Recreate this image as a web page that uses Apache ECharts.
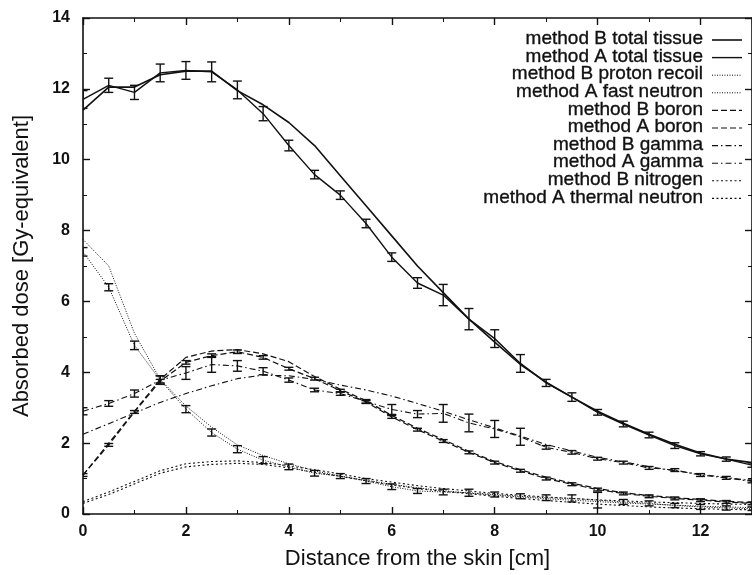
<!DOCTYPE html>
<html>
<head>
<meta charset="utf-8">
<script src="https://cdn.jsdelivr.net/npm/echarts@6/dist/echarts.min.js"></script>
<style>
  html, body { margin: 0; padding: 0; background: #fff; }
  #chart { width: 752px; height: 575px; }
</style>
</head>
<body>
<div id="chart"></div>
<script>
// Depth in phantom [cm]
const depth = [0,0.5,1,1.5,2,2.5,3,3.5,4,4.5,5,5.5,6,6.5,7,7.5,8,8.5,9,9.5,10,10.5,11,11.5,12,12.5,13];

// Dose components [Gy-equivalent]
const totalB   = [11.4,12.05,12.05,12.4,12.5,12.5,11.95,11.55,11.05,10.4,9.55,8.7,7.85,7.0,6.25,5.5,4.85,4.22,3.72,3.3,2.9,2.56,2.25,1.97,1.72,1.55,1.45];
const totalA   = [11.7,12.1,11.9,12.45,12.52,12.48,11.97,11.3,10.4,9.58,9.0,8.2,7.25,6.52,6.18,5.5,4.95,4.25,3.7,3.3,2.87,2.54,2.23,1.93,1.7,1.55,1.38];
const totalAErr= [0.25,0.2,0.2,0.25,0.25,0.28,0.25,0.2,0.15,0.12,0.12,0.12,0.12,0.15,0.3,0.3,0.25,0.25,0.1,0.12,0.08,0.08,0.08,0.08,0.06,0.06,0.06];

const protonB  = [7.75,7.0,5.1,3.8,3.05,2.45,1.95,1.65,1.42,1.22,1.07,0.95,0.84,0.74,0.66,0.59,0.53,0.48,0.43,0.39,0.35,0.31,0.28,0.25,0.22,0.2,0.18];
const fastA    = [7.4,6.4,4.76,3.78,2.96,2.3,1.83,1.52,1.33,1.15,1.07,0.93,0.77,0.65,0.62,0.6,0.55,0.5,0.46,0.44,0.39,0.34,0.3,0.24,0.2,0.17,0.15];
const fastAErr = [0.12,0.1,0.12,0.12,0.1,0.1,0.1,0.1,0.08,0.08,0.07,0.07,0.08,0.07,0.08,0.1,0.07,0.07,0.08,0.1,0.22,0.07,0.07,0.06,0.07,0.06,0.05];

const boronB   = [1.1,2.0,2.9,3.8,4.42,4.6,4.64,4.52,4.3,3.88,3.52,3.2,2.78,2.42,2.1,1.77,1.48,1.25,1.04,0.87,0.72,0.6,0.52,0.46,0.41,0.36,0.32];
const boronA   = [1.1,1.95,2.88,3.75,4.28,4.47,4.58,4.42,4.1,3.82,3.48,3.16,2.74,2.38,2.06,1.74,1.45,1.22,1.0,0.84,0.69,0.58,0.5,0.44,0.39,0.34,0.3];
const boronAErr= [0.04,0.04,0.04,0.05,0.05,0.05,0.05,0.05,0.04,0.04,0.04,0.04,0.04,0.04,0.04,0.04,0.04,0.04,0.04,0.04,0.04,0.04,0.04,0.04,0.04,0.04,0.04];

const gammaB   = [2.25,2.55,2.85,3.15,3.4,3.62,3.82,3.92,3.9,3.8,3.64,3.5,3.33,3.12,2.9,2.66,2.43,2.2,1.96,1.78,1.6,1.47,1.34,1.22,1.12,1.03,0.94];
const gammaA   = [2.9,3.12,3.4,3.78,3.98,4.22,4.18,4.03,3.78,3.5,3.4,3.18,2.95,2.82,2.84,2.57,2.4,2.18,1.88,1.74,1.56,1.45,1.3,1.24,1.1,1.02,0.92];
const gammaAErr= [0.1,0.08,0.1,0.12,0.18,0.22,0.15,0.1,0.06,0.05,0.05,0.05,0.14,0.1,0.25,0.25,0.24,0.24,0.05,0.05,0.04,0.04,0.04,0.04,0.04,0.04,0.04];

const nitrogenB= [0.35,0.62,0.92,1.22,1.42,1.48,1.5,1.45,1.36,1.25,1.13,1.0,0.9,0.8,0.72,0.65,0.58,0.53,0.48,0.44,0.4,0.37,0.34,0.32,0.3,0.28,0.27];
const thermalA = [0.3,0.55,0.85,1.15,1.33,1.4,1.43,1.4,1.3,1.18,1.06,0.94,0.82,0.72,0.64,0.57,0.5,0.44,0.38,0.33,0.28,0.24,0.2,0.17,0.15,0.13,0.12];

const xTicks = [0,2,4,6,8,10,12];
const yTicks = [0,2,4,6,8,10,12,14];

const INK = '#111';
const FONT = '"Liberation Sans", Arial, Helvetica, sans-serif';

// line dash patterns
const SOLID = 'solid';
const FINE_DOT = [1, 1.5];
const DASH = [6, 3];
const DASH_DOT = [6, 3, 1.5, 3];
const DOT = [2, 2.5];

const seriesDefs = [
  { name: 'method B total tissue',    y: totalB,    dash: SOLID,    w: 1.6 },
  { name: 'method A total tissue',    y: totalA,    dash: SOLID,    w: 1.4, err: totalAErr },
  { name: 'method B proton recoil',   y: protonB,   dash: FINE_DOT, w: 1.0 },
  { name: 'method A fast neutron',    y: fastA,     dash: FINE_DOT, w: 1.0, err: fastAErr },
  { name: 'method B boron',           y: boronB,    dash: DASH,     w: 1.2 },
  { name: 'method A boron',           y: boronA,    dash: DASH,     w: 1.2, err: boronAErr },
  { name: 'method B gamma',           y: gammaB,    dash: DASH_DOT, w: 1.1 },
  { name: 'method A gamma',           y: gammaA,    dash: DASH_DOT, w: 1.1, err: gammaAErr },
  { name: 'method B nitrogen',        y: nitrogenB, dash: DOT,      w: 1.1 },
  { name: 'method A thermal neutron', y: thermalA,  dash: DOT,      w: 1.1 }
];

function pairs(ys) { return depth.map((x, i) => [x, ys[i]]); }

function errorBarSeries(ys, errs) {
  return {
    type: 'custom',
    xAxisIndex: 0, yAxisIndex: 0,
    clip: true,
    silent: true,
    z: 5,
    data: depth.map((x, i) => [x, ys[i] - errs[i], ys[i] + errs[i]]),
    renderItem: function (params, api) {
      const lo = api.coord([api.value(0), api.value(1)]);
      const hi = api.coord([api.value(0), api.value(2)]);
      const cap = 4.5;
      const st = { stroke: INK, lineWidth: 1.4 };
      return {
        type: 'group',
        children: [
          { type: 'line', shape: { x1: lo[0], y1: lo[1], x2: hi[0], y2: hi[1] }, style: st },
          { type: 'line', shape: { x1: lo[0] - cap, y1: lo[1], x2: lo[0] + cap, y2: lo[1] }, style: st },
          { type: 'line', shape: { x1: hi[0] - cap, y1: hi[1], x2: hi[0] + cap, y2: hi[1] }, style: st }
        ]
      };
    }
  };
}

const series = [];
seriesDefs.forEach(d => {
  series.push({
    name: d.name,
    type: 'line',
    data: pairs(d.y),
    showSymbol: false,
    symbol: 'none',
    smooth: false,
    clip: true,
    lineStyle: { color: INK, width: d.w, type: d.dash },
    z: 3
  });
  if (d.err) series.push(errorBarSeries(d.y, d.err));
});

// legend block: right-aligned labels with line samples to their right
const legendGraphics = [];
const legTextRight = 703, legTop = 39, legStep = 17.6, legX1 = 712, legX2 = 742;
seriesDefs.forEach((d, i) => {
  const yy = legTop + i * legStep;
  legendGraphics.push({
    type: 'text', x: legTextRight, y: yy,
    style: { text: d.name, x: 0, y: 0, textAlign: 'right', textVerticalAlign: 'middle',
             font: '19px ' + FONT, fill: INK, stroke: INK, lineWidth: 0.35 }
  });
  legendGraphics.push({
    type: 'line', x: 0, y: 0,
    shape: { x1: legX1, y1: yy + 1, x2: legX2, y2: yy + 1 },
    style: { stroke: INK, lineWidth: d.w, lineDash: d.dash === SOLID ? null : d.dash }
  });
});

const axisCommon = {
  type: 'value',
  axisLine: { show: true, onZero: false, lineStyle: { color: INK, width: 1.6 } },
  axisTick: { show: true, inside: true, length: 7, lineStyle: { color: INK, width: 1.4 } },
  minorTick: { show: true, splitNumber: 2, length: 4, lineStyle: { color: INK, width: 1 } },
  splitLine: { show: false },
  minorSplitLine: { show: false }
};

const chart = echarts.init(document.getElementById('chart'), null, { renderer: 'canvas' });
chart.setOption({
  animation: false,
  backgroundColor: '#fff',
  grid: { left: 83, right: -10, top: 18, bottom: 50 },
  xAxis: [
    Object.assign({}, axisCommon, {
      min: xTicks[0], max: 13, interval: 2, position: 'bottom',
      name: 'Distance from the skin [cm]', nameLocation: 'middle', nameGap: 34,
      nameTextStyle: { fontFamily: FONT, fontSize: 22, color: INK },
      axisLabel: { show: true, margin: 10, showMaxLabel: false, fontFamily: FONT, fontSize: 16,
                   fontWeight: 'bold', color: INK,
                   formatter: v => (xTicks.indexOf(v) >= 0 ? String(v) : '') }
    }),
    Object.assign({}, axisCommon, {
      min: xTicks[0], max: 13, interval: 2, position: 'top',
      axisLabel: { show: false }
    })
  ],
  yAxis: [
    Object.assign({}, axisCommon, {
      min: yTicks[0], max: 14, interval: 2, position: 'left',
      name: 'Absorbed dose [Gy-equivalent]', nameLocation: 'middle', nameGap: 50,
      nameTextStyle: { fontFamily: FONT, fontSize: 22, color: INK },
      axisLabel: { show: true, margin: 13, fontFamily: FONT, fontSize: 16, fontWeight: 'bold', color: INK,
                   formatter: v => (yTicks.indexOf(v) >= 0 ? String(v) : '') }
    }),
    Object.assign({}, axisCommon, {
      min: yTicks[0], max: 14, interval: 2, position: 'right',
      axisLabel: { show: false }
    })
  ],
  graphic: legendGraphics,
  series: series
});
</script>
</body>
</html>
